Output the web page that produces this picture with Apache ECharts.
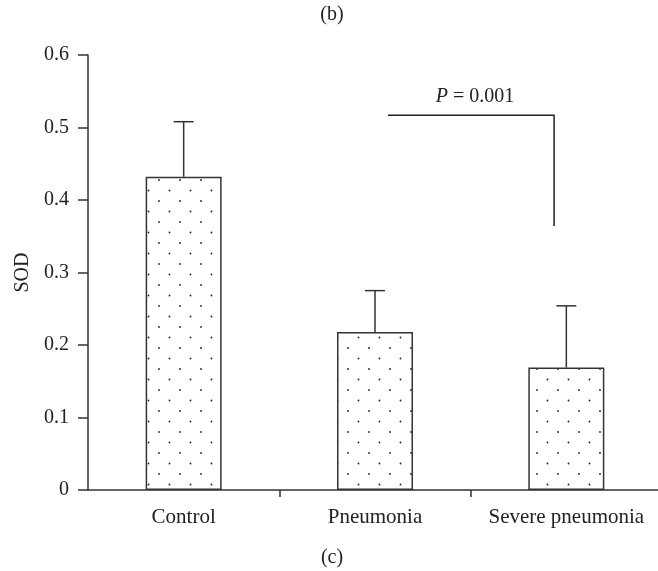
<!DOCTYPE html>
<html>
<head>
<meta charset="utf-8">
<script src="https://cdn.jsdelivr.net/npm/echarts@6/dist/echarts.min.js"></script>
<style>
  html, body { margin: 0; padding: 0; background: #fff; overflow: hidden; }
  #chart { width: 662px; height: 571px; }
</style>
</head>
<body>
<div id="chart"></div>
<script>
// SOD 各组均值 + 上误差
const categories = ["Control", "Pneumonia", "Severe pneumonia"];
const means = [0.432, 0.218, 0.169];
const upper = [0.508, 0.275, 0.254];
const yTicks = [0, 0.6, 0.1]; // min, max, interval
// 显著性括号：x 为类目序号坐标，y 为数值
const bracketX = [1.068, 1.936];
const bracketY = [0.517, 0.364];
const pValue = "0.001";

const FONT = "Liberation Serif";
const INK = "#333";

// 点状填充
function dotPattern() {
  const c = document.createElement("canvas");
  c.width = 21;
  c.height = 21;
  const ctx = c.getContext("2d");
  ctx.fillStyle = "#fff";
  ctx.fillRect(0, 0, 21, 21);
  ctx.fillStyle = "#222";
  [[1.5, 1.5], [12, 12]].forEach(function (p) {
    ctx.beginPath();
    ctx.arc(p[0], p[1], 0.9, 0, Math.PI * 2);
    ctx.fill();
  });
  return c;
}

const myChart = echarts.init(document.getElementById("chart"));

const option = {
  animation: false,
  backgroundColor: "#fff",
  textStyle: { fontFamily: FONT, color: "#222" },
  graphic: [
    { type: "text", x: 332, y: 15, style: { text: "(b)", font: "20px " + FONT, fill: "#222", textAlign: "center", textVerticalAlign: "middle" } },
    { type: "text", x: 332, y: 558, style: { text: "(c)", font: "20px " + FONT, fill: "#222", textAlign: "center", textVerticalAlign: "middle" } },
  ],
  grid: { left: 88, right: 0, top: 55, bottom: 81 },
  xAxis: [
    {
      type: "category",
      data: categories,
      axisLine: { onZero: false, lineStyle: { color: INK, width: 1.5 } },
      axisTick: {
        show: true,
        length: 7,
        interval: function (index) { return index !== 0; },
        lineStyle: { color: INK, width: 1.5 },
      },
      axisLabel: { interval: 0, margin: 17, fontSize: 21, fontFamily: FONT, color: "#222" },
    },
    {
      type: "value",
      min: -0.5,
      max: 2.5,
      show: false,
    },
  ],
  yAxis: {
    type: "value",
    min: yTicks[0],
    max: yTicks[1],
    interval: yTicks[2],
    name: "SOD",
    nameLocation: "middle",
    nameGap: 54,
    nameTextStyle: { fontSize: 20, fontFamily: FONT, color: "#222" },
    axisLine: { show: true, onZero: false, lineStyle: { color: INK, width: 1.5 } },
    axisTick: { show: true, length: 10, lineStyle: { color: INK, width: 1.5 } },
    axisLabel: { margin: 19, fontSize: 20, fontFamily: FONT, color: "#222" },
    splitLine: { show: false },
  },
  series: [
    {
      type: "bar",
      data: means,
      barWidth: 76,
      itemStyle: {
        color: { image: dotPattern(), repeat: "repeat" },
        borderColor: INK,
        borderWidth: 1.5,
      },
    },
    {
      type: "custom",
      data: categories.map(function (c, i) { return [i, means[i], upper[i]]; }),
      z: 3,
      renderItem: function (params, api) {
        const x = api.value(0);
        const top = api.coord([x, api.value(2)]);
        const base = api.coord([x, api.value(1)]);
        const st = { stroke: INK, lineWidth: 1.5 };
        return {
          type: "group",
          children: [
            { type: "line", shape: { x1: top[0], y1: top[1], x2: base[0], y2: base[1] }, style: st },
            { type: "line", shape: { x1: top[0] - 10, y1: top[1], x2: top[0] + 10, y2: top[1] }, style: st },
          ],
        };
      },
    },
    {
      type: "custom",
      xAxisIndex: 1,
      data: [[bracketX[0], bracketY[0], bracketX[1], bracketY[1]]],
      renderItem: function (params, api) {
        const p1 = api.coord([api.value(0), api.value(1)]);
        const p2 = api.coord([api.value(2), api.value(1)]);
        const p3 = api.coord([api.value(2), api.value(3)]);
        return {
          type: "group",
          children: [
            {
              type: "polyline",
              shape: { points: [p1, p2, p3] },
              style: { stroke: "#222", lineWidth: 1.5, fill: null },
            },
            {
              type: "text",
              x: (p1[0] + p2[0]) / 2 + 4,
              y: p1[1] - 8,
              style: {
                text: "{i|P} = " + pValue,
                font: "20px " + FONT,
                fill: "#222",
                align: "center",
                verticalAlign: "bottom",
                rich: { i: { fontStyle: "italic", fontSize: 20, fontFamily: FONT } },
              },
            },
          ],
        };
      },
    },
  ],
};

myChart.setOption(option);
</script>
</body>
</html>
